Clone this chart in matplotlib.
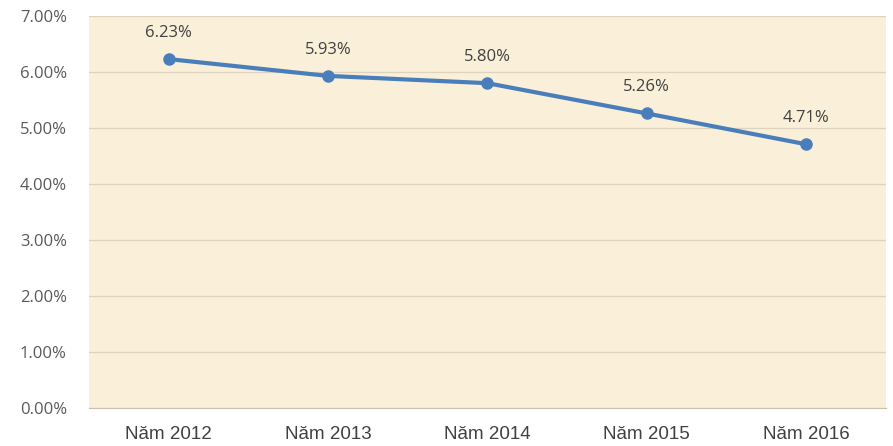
import matplotlib
matplotlib.use("Agg")
import matplotlib.pyplot as plt
from matplotlib.ticker import FuncFormatter

categories = ["Năm 2012", "Năm 2013", "Năm 2014", "Năm 2015", "Năm 2016"]
values = [6.23, 5.93, 5.80, 5.26, 4.71]
value_labels = ["6.23%", "5.93%", "5.80%", "5.26%", "4.71%"]
y_ticks = [0, 1, 2, 3, 4, 5, 6, 7]

fig = plt.figure(figsize=(8.93, 4.46), dpi=100)
fig.patch.set_facecolor("white")
ax = fig.add_axes([0.0997, 0.0852, 0.892, 0.879])
ax.set_facecolor("#FAF0D9")

x = list(range(len(categories)))
ax.plot(x, values, color="#4A7EBB", linewidth=3, marker="o", markersize=8,
        markerfacecolor="#4A7EBB", markeredgecolor="#4A7EBB", zorder=3)

for i, (v, lab) in enumerate(zip(values, value_labels)):
    ax.annotate(lab, (i, v), xytext=(0, 13), textcoords="offset points",
                ha="center", va="bottom", fontsize=12, color="#404040",
                family="Open Sans")

ax.set_xlim(-0.5, len(categories) - 0.5)
ax.set_ylim(0, 7)
ax.set_yticks(y_ticks)
ax.yaxis.set_major_formatter(FuncFormatter(lambda v, p: f"{v:.2f}%"))
ax.set_xticks(x)
ax.set_xticklabels(categories, fontsize=13.5, color="#404040", family="Liberation Sans")
for t in ax.get_yticklabels():
    t.set_fontsize(12)
    t.set_color("#595959")
    t.set_family("Open Sans")

ax.grid(axis="y", color="#DDD3BF", linewidth=0.9)
ax.set_axisbelow(True)
for s in ["top", "right", "left"]:
    ax.spines[s].set_visible(False)
ax.spines["bottom"].set_color("#C8BFAE")
ax.tick_params(axis="both", length=0)
ax.tick_params(axis="y", pad=16)
ax.tick_params(axis="x", pad=13)

fig.savefig("out.png", dpi=100)
